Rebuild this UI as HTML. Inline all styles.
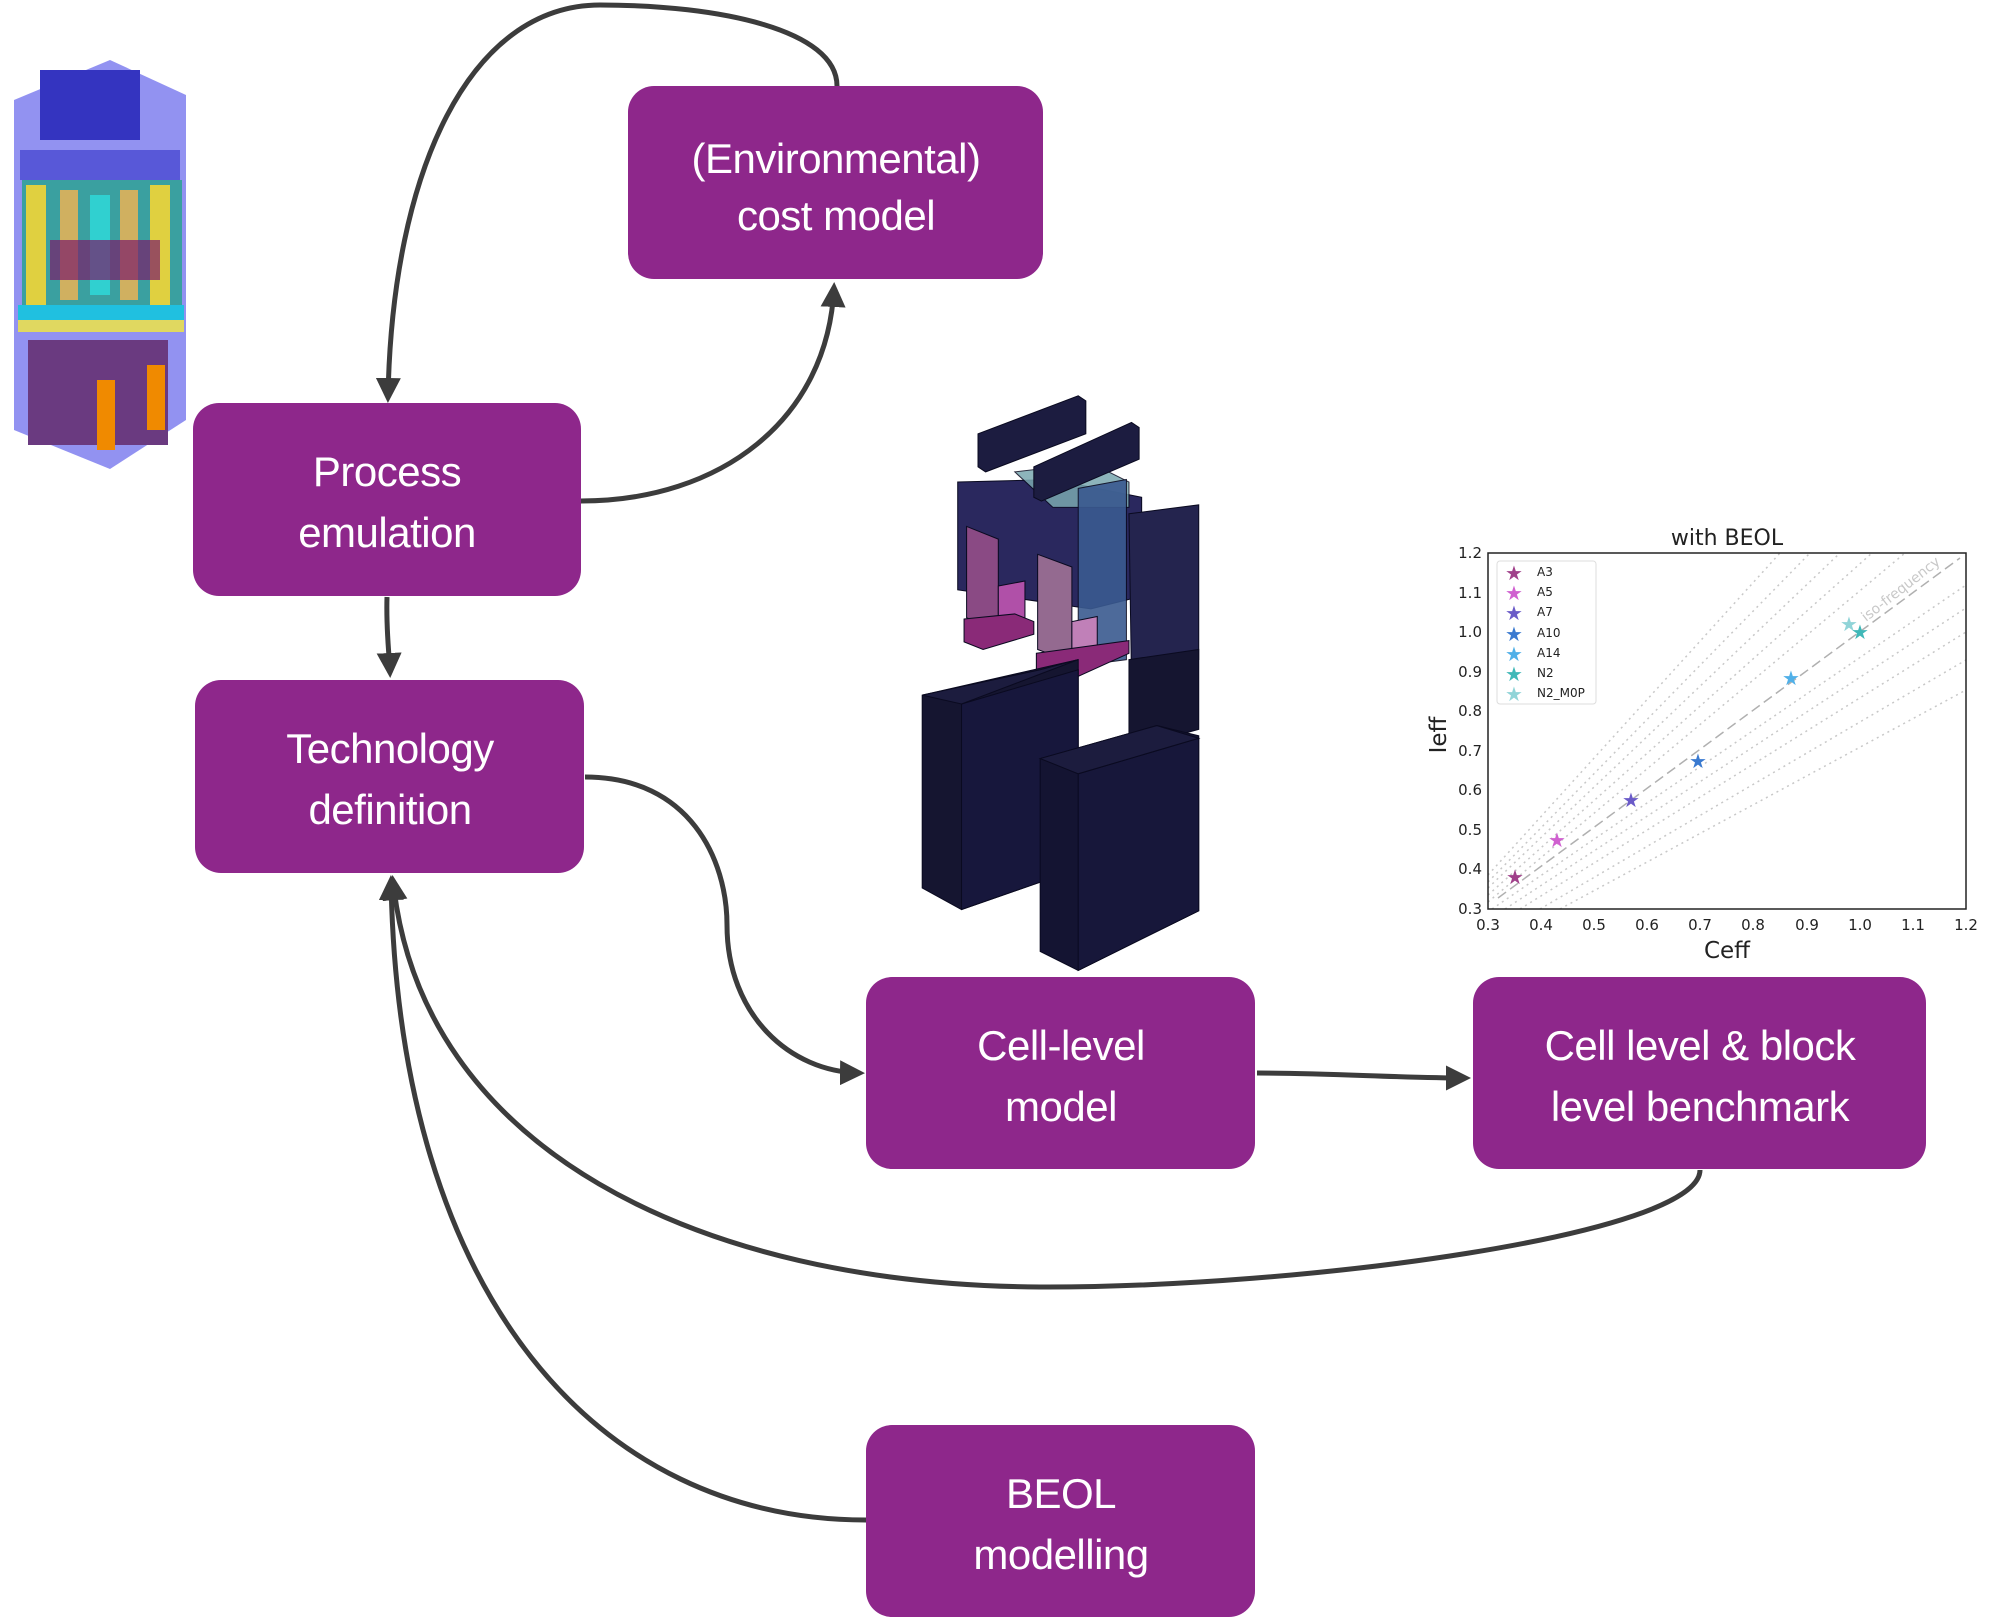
<!DOCTYPE html>
<html><head><meta charset="utf-8"><style>
html,body{margin:0;padding:0;background:#fff}
svg{display:block}
.bx{fill:#8e278b}
.t{font-family:"Liberation Sans",sans-serif;font-size:42px;fill:#fff;text-anchor:middle;letter-spacing:-0.5px}
.c{fill:none;stroke:#3c3c3c;stroke-width:5}
.ax{font-family:"DejaVu Sans","Liberation Sans",sans-serif;font-size:15px;fill:#222}
</style></head><body>
<svg width="1989" height="1619" viewBox="0 0 1989 1619" xmlns="http://www.w3.org/2000/svg">
<defs>
<marker id="a" viewBox="0 0 10 10" refX="8" refY="5" markerWidth="5" markerHeight="5" orient="auto"><path d="M0,0L10,5L0,10z" fill="#3c3c3c"/></marker>
</defs>

<g>
<polygon points="14,100 110,60 186,95 186,420 110,469 14,430" fill="#7f7fef" opacity="0.85"/>
<rect x="40" y="70" width="100" height="70" fill="#3434c0"/>
<rect x="20" y="150" width="160" height="30" fill="#5858d8"/>
<rect x="22" y="180" width="160" height="140" fill="#3aa0a0"/>
<rect x="26" y="185" width="20" height="120" fill="#e0d040"/>
<rect x="60" y="190" width="18" height="110" fill="#d0b060"/>
<rect x="90" y="195" width="20" height="100" fill="#30d0d0"/>
<rect x="120" y="190" width="18" height="110" fill="#d0b060"/>
<rect x="150" y="185" width="20" height="120" fill="#e0d040"/>
<rect x="50" y="240" width="110" height="40" fill="#7a1b6a" opacity="0.7"/>
<rect x="18" y="305" width="166" height="15" fill="#20c0e0"/>
<rect x="18" y="320" width="166" height="12" fill="#e0d860"/>
<rect x="28" y="340" width="140" height="105" fill="#6a3a80"/>
<rect x="97" y="380" width="18" height="70" fill="#f08a00"/>
<rect x="147" y="365" width="18" height="65" fill="#f08a00"/>
</g>

<g transform="scale(1.2685)" stroke="#0a0a20" stroke-width="0.8">
<polygon points="755,380 830,378 900,392 900,470 860,480 755,465" fill="#2a285e"/>
<polygon points="800,372 860,365 890,380 890,400 830,400" fill="#7aa8b0" opacity="0.85"/>
<polygon points="771,342 850,312 856,316 856,342 777,372 771,368" fill="#1c1c40"/>
<polygon points="815,368 892,333 898,337 898,362 821,395 815,392" fill="#1c1c40"/>
<polygon points="850,385 888,378 888,520 850,525" fill="#3a5a90" opacity="0.9"/>
<polygon points="762,415 787,425 787,497 762,487" fill="#8a4a84"/>
<polygon points="787,462 808,458 808,495 787,497" fill="#b050a8"/>
<polygon points="818,437 845,447 845,522 818,512" fill="#946a90"/>
<polygon points="845,490 865,486 865,520 845,522" fill="#c080b8"/>
<polygon points="760,488 800,484 815,490 815,500 775,512 760,506" fill="#8a2a78"/>
<polygon points="817,515 890,505 890,515 835,540 817,536" fill="#8a2a78"/>
<polygon points="890,405 945,398 945,520 892,535" fill="#24244e"/>
<polygon points="890,520 945,512 945,575 890,590" fill="#151530"/>
<polygon points="727,548 850,520 850,685 758,717 727,700" fill="#151530"/>
<polygon points="758,555 850,528 850,685 758,717" fill="#17173c"/>
<polygon points="727,548 820,528 850,520 758,555" fill="#1c1c3e"/>
<polygon points="820,598 912,572 945,580 945,718 850,765 820,750" fill="#141432"/>
<polygon points="850,610 945,582 945,718 850,765" fill="#17173a"/>
<polygon points="820,598 912,572 945,582 850,610" fill="#1c1c3e"/>
</g>

<g>
<text x="1727" y="545" class="ax" style="font-size:22px" text-anchor="middle">with BEOL</text>
<g stroke="#c8c8c8" stroke-width="1.5" stroke-dasharray="2,4" fill="none">
<line x1="1488" y1="875" x2="1780" y2="553"/>
<line x1="1488" y1="882" x2="1810" y2="553"/>
<line x1="1488" y1="888" x2="1840" y2="553"/>
<line x1="1488" y1="895" x2="1872" y2="553"/>
<line x1="1488" y1="902" x2="1905" y2="553"/>
<line x1="1492" y1="909" x2="1966" y2="585"/>
<line x1="1505" y1="909" x2="1966" y2="608"/>
<line x1="1520" y1="909" x2="1966" y2="632"/>
<line x1="1540" y1="909" x2="1966" y2="660"/>
<line x1="1560" y1="909" x2="1966" y2="690"/>
</g>
<line x1="1498" y1="898" x2="1960" y2="558" stroke="#b0b0b0" stroke-width="1.5" stroke-dasharray="10,5"/>
<rect x="1488" y="553" width="478" height="356" fill="none" stroke="#222" stroke-width="1.5"/>
<g class="ax" text-anchor="end">
<text x="1482" y="558">1.2</text><text x="1482" y="598">1.1</text><text x="1482" y="637">1.0</text>
<text x="1482" y="677">0.9</text><text x="1482" y="716">0.8</text><text x="1482" y="756">0.7</text>
<text x="1482" y="795">0.6</text><text x="1482" y="835">0.5</text><text x="1482" y="874">0.4</text><text x="1482" y="914">0.3</text>
</g>
<g class="ax" text-anchor="middle">
<text x="1488" y="930">0.3</text><text x="1541" y="930">0.4</text><text x="1594" y="930">0.5</text>
<text x="1647" y="930">0.6</text><text x="1700" y="930">0.7</text><text x="1753" y="930">0.8</text>
<text x="1807" y="930">0.9</text><text x="1860" y="930">1.0</text><text x="1913" y="930">1.1</text><text x="1966" y="930">1.2</text>
</g>
<text x="1727" y="958" class="ax" style="font-size:23px" text-anchor="middle">Ceff</text>
<text x="0" y="0" class="ax" style="font-size:23px" text-anchor="middle" transform="translate(1446,735) rotate(-90)">Ieff</text>
<rect x="1497" y="561" width="99" height="143" fill="#fff" stroke="#ddd" rx="3"/>
<g font-size="20" font-family="DejaVu Sans,sans-serif" text-anchor="middle">
<text x="1514" y="580" fill="#a0408a">★</text><text x="1514" y="600" fill="#d060d0">★</text>
<text x="1514" y="620" fill="#6a5ac8">★</text><text x="1514" y="641" fill="#3a7ad0">★</text>
<text x="1514" y="661" fill="#50b0e8">★</text><text x="1514" y="681" fill="#40b8b8">★</text>
<text x="1514" y="701" fill="#90d4d8">★</text>
<text x="1515" y="884" fill="#a0408a">★</text><text x="1557" y="847" fill="#d060d0">★</text>
<text x="1631" y="807" fill="#6a5ac8">★</text><text x="1698" y="768" fill="#3a7ad0">★</text>
<text x="1791" y="685" fill="#50b0e8">★</text><text x="1849" y="631" fill="#90d4d8">★</text>
<text x="1860" y="639" fill="#40b8b8">★</text>
</g>
<g class="ax" style="font-size:12px">
<text x="1537" y="576">A3</text><text x="1537" y="596">A5</text><text x="1537" y="616">A7</text>
<text x="1537" y="637">A10</text><text x="1537" y="657">A14</text><text x="1537" y="677">N2</text><text x="1537" y="697">N2_M0P</text>
</g>
<text x="0" y="0" font-family="DejaVu Sans,sans-serif" font-size="14" fill="#c8c8c8" transform="translate(1866,622) rotate(-38)">iso-frequency</text>
</g>

<path class="c" marker-end="url(#a)" d="M837,86 C837,30 720,5 600,5 C470,5 392,170 388,398"/>
<path class="c" marker-end="url(#a)" d="M581,501 C720,501 828,420 834,287"/>
<path class="c" marker-end="url(#a)" d="M387,597 C386,630 389,650 390,673"/>
<path class="c" marker-end="url(#a)" d="M585,777 C690,777 727,860 727,925 C727,1015 790,1072 860,1073"/>
<path class="c" marker-end="url(#a)" d="M1257,1073 C1330,1073 1400,1078 1466,1078"/>
<path class="c" marker-end="url(#a)" d="M1700,1170 C1700,1235 1300,1288 1040,1287 C700,1285 420,1150 393,880"/>
<path class="c" marker-end="url(#a)" d="M866,1520 C600,1520 398,1300 391,880"/>

<rect class="bx" x="628" y="86" width="415" height="193" rx="26"/>
<text class="t" x="836" y="173">(Environmental)</text>
<text class="t" x="836" y="230">cost model</text>

<rect class="bx" x="193" y="403" width="388" height="193" rx="26"/>
<text class="t" x="387" y="486">Process</text>
<text class="t" x="387" y="547">emulation</text>

<rect class="bx" x="195" y="680" width="389" height="193" rx="26"/>
<text class="t" x="390" y="763">Technology</text>
<text class="t" x="390" y="824">definition</text>

<rect class="bx" x="866" y="977" width="389" height="192" rx="26"/>
<text class="t" x="1061" y="1060">Cell-level</text>
<text class="t" x="1061" y="1121">model</text>

<rect class="bx" x="1473" y="977" width="453" height="192" rx="26"/>
<text class="t" x="1700" y="1060">Cell level &amp; block</text>
<text class="t" x="1700" y="1121">level benchmark</text>

<rect class="bx" x="866" y="1425" width="389" height="192" rx="26"/>
<text class="t" x="1061" y="1508">BEOL</text>
<text class="t" x="1061" y="1569">modelling</text>
</svg>
</body></html>
